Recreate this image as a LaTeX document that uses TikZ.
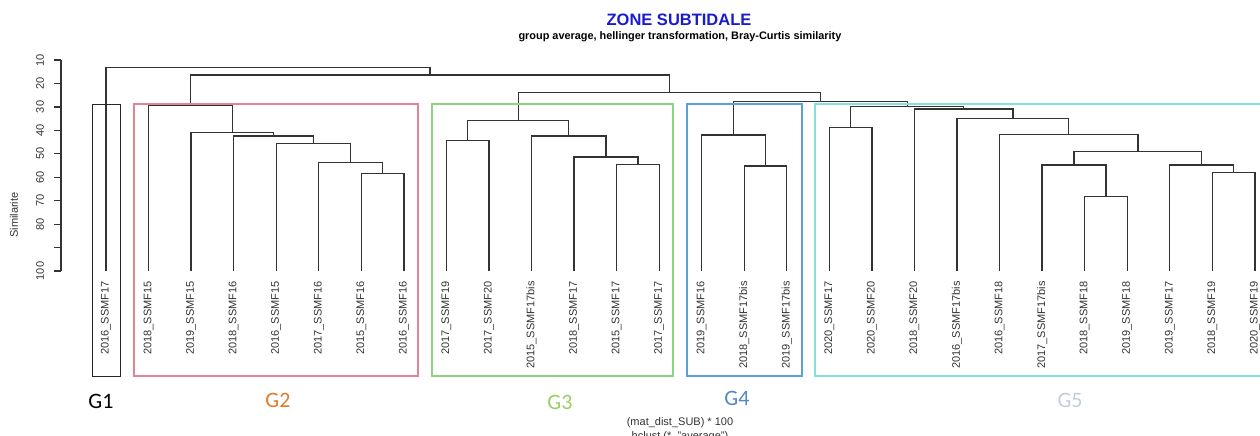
\documentclass[tikz,border=0pt]{standalone}
\usepackage{fontspec}
\setmainfont{Liberation Sans}
\newfontfamily\grpfont{Carlito}
\usetikzlibrary{calc,positioning}
\definecolor{titleblue}{HTML}{1A1AD2}
\definecolor{boxred}{HTML}{E08592}
\definecolor{boxgreen}{HTML}{8FD282}
\definecolor{boxblue}{HTML}{5DA0DA}
\definecolor{boxcyan}{HTML}{86E0DA}
\definecolor{gtwo}{HTML}{E07B2A}
\definecolor{gthree}{HTML}{9ACF62}
\definecolor{gfour}{HTML}{5586C8}
\definecolor{gfive}{HTML}{C3CEDC}
\tikzset{x=1pt, y=-1pt,
         branch/.style={draw=black!80, line width=1.3pt},
         leaflabel/.style={rotate=90, anchor=east, inner sep=0pt, text=black!80,
                           font=\fontsize{11}{13}\selectfont},
         axislabel/.style={rotate=90, inner sep=0pt, text=black!80,
                           font=\fontsize{11}{13}\selectfont},
         grouplabel/.style={inner sep=0pt, font=\grpfont\fontsize{22}{26}\selectfont},
         groupbox/.style={line width=1.3pt}}
% merge two subtrees at a given height
\newcommand\merge[4]{%
  \coordinate (#1) at ($(#2)!.5!(#3)$);
  \coordinate (#1) at (#1 |- 0,#4);
  \draw[branch] (#2) |- (#1) -| (#3);}

\begin{document}
\begin{tikzpicture}
	\useasboundingbox (0,0) rectangle (1260,436);

	\node[inner sep=0pt, text=titleblue, font=\bfseries\fontsize{16.5}{18}\selectfont] (title) at (679,20) {ZONE SUBTIDALE};
	\node[inner sep=0pt, font=\bfseries\fontsize{10.9}{12}\selectfont] (subtitle) at (680,37)
	  {group average, hellinger transformation, Bray-Curtis similarity};

	% axis
	\draw[branch] (61,60) -- (61,271);
	\foreach \v in {10,20,...,100}
	  \draw[branch] (54,{60+(\v-10)*2.345}) -- (61,{60+(\v-10)*2.345});
	\foreach \v in {10,20,...,80,100}
	  \node[axislabel] at (40,{60+(\v-10)*2.345}) {\v};
	\node[axislabel] (ylab) at (14,215) {Similarite};

	% leaves
	\foreach \lbl [count=\i from 0] in {2016\_SSMF17, 2018\_SSMF15, 2019\_SSMF15, 2018\_SSMF16,
	    2016\_SSMF15, 2017\_SSMF16, 2015\_SSMF16, 2016\_SSMF16, 2017\_SSMF19, 2017\_SSMF20,
	    2015\_SSMF17bis, 2018\_SSMF17, 2015\_SSMF17, 2017\_SSMF17, 2019\_SSMF16,
	    2018\_SSMF17bis, 2019\_SSMF17bis, 2020\_SSMF17, 2020\_SSMF20, 2018\_SSMF20,
	    2016\_SSMF17bis, 2016\_SSMF18, 2017\_SSMF17bis, 2018\_SSMF18, 2019\_SSMF18,
	    2019\_SSMF17, 2018\_SSMF19, 2020\_SSMF19}
	{
	  \coordinate (l\i) at ({106+42.55*\i},271);
	  \node[leaflabel] (t\i) at ({106+42.55*\i},281) {\lbl};
	}

	% G2
	\merge{m67}{l6}{l7}{173.7}
	\merge{m5}{l5}{m67}{162.7}
	\merge{m4}{l4}{m5}{143.3}
	\merge{m3}{l3}{m4}{136}
	\merge{m2}{l2}{m3}{132.3}
	\merge{ctwo}{l1}{m2}{105.3}
	% G3
	\merge{m89}{l8}{l9}{140.7}
	\merge{m1213}{l12}{l13}{164.3}
	\merge{m11}{l11}{m1213}{157}
	\merge{m10}{l10}{m11}{136}
	\merge{cthree}{m89}{m10}{120.7}
	% G4
	\merge{m1516}{l15}{l16}{166}
	\merge{cfour}{l14}{m1516}{135}
	% G5
	\merge{m2324}{l23}{l24}{196.7}
	\merge{m22}{l22}{m2324}{165}
	\merge{m2627}{l26}{l27}{172.7}
	\merge{m25}{l25}{m2627}{165}
	\merge{m2225}{m22}{m25}{151.7}
	\merge{m21}{l21}{m2225}{134.3}
	\merge{m20}{l20}{m21}{118.3}
	\merge{m19}{l19}{m20}{109}
	\merge{m1718}{l17}{l18}{127.7}
	\merge{cfive}{m1718}{m19}{106.7}
	% top
	\merge{ua}{cfour}{cfive}{101.7}
	\merge{ub}{cthree}{ua}{92.3}
	\merge{uc}{ctwo}{ub}{75}
	\merge{root}{l0}{uc}{67.7}

	% groups
	\draw[line width=1pt, black!85] (92,104) rectangle (120,376);
	\draw[groupbox, boxred] (134,104) rectangle (418,376);
	\draw[groupbox, boxgreen] (432,104) rectangle (673,376);
	\draw[groupbox, boxblue] (687,104) rectangle (802,376);
	\draw[groupbox, boxcyan] (815,104) rectangle (1264,376);

	\node[grouplabel] (gone) at (101,401) {G1};
	\node[grouplabel, text=gtwo] (gtwolbl) at (278,400) {G2};
	\node[grouplabel, text=gthree] (gthreelbl) at (560,402) {G3};
	\node[grouplabel, text=gfour] (gfourlbl) at (737,398) {G4};
	\node[grouplabel, text=gfive] (gfivelbl) at (1070,400) {G5};

	\node[inner sep=0pt, font=\fontsize{11}{13}\selectfont, text=black!80] (xlab) at (680,423) {(mat\_dist\_SUB) * 100};
	\node[inner sep=0pt, font=\fontsize{11}{13}\selectfont, text=black!80, below=3pt of xlab] (method)
	  {hclust (*, "average")};
\end{tikzpicture}
\end{document}
